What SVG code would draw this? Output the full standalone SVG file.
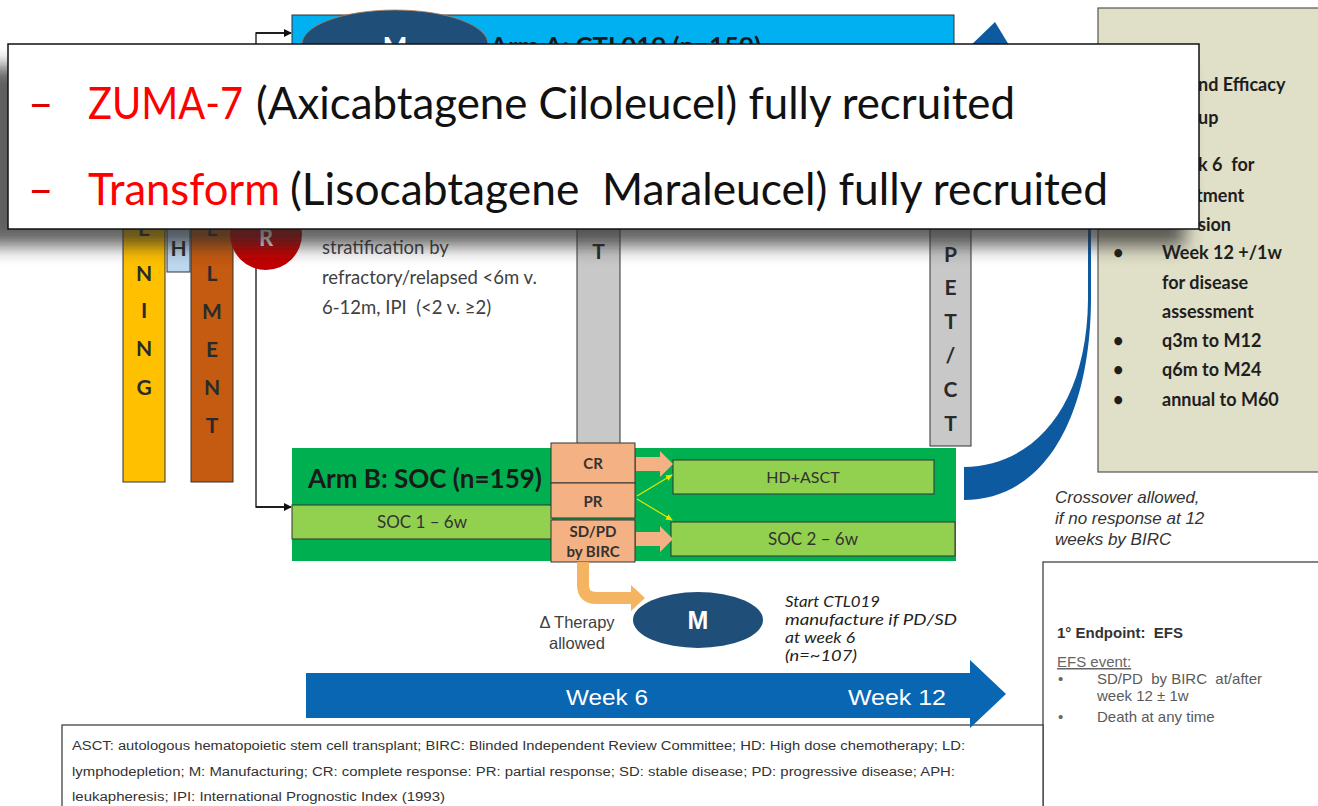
<svg xmlns="http://www.w3.org/2000/svg" width="1318" height="806" viewBox="0 0 1318 806">
<defs>
<style>
.cal{font-family:Lato,"Open Sans","Liberation Sans",sans-serif}
.ari{font-family:"Liberation Sans",Arial,sans-serif}
.b{font-weight:bold}
.col{font-family:Lato,"Liberation Sans",sans-serif;font-weight:bold;font-size:21px;fill:#2a2a2a;text-anchor:middle}
.orng{fill:#f4b183;stroke:#333;stroke-width:1}
.lt{fill:#92d050;stroke:#333;stroke-width:1}
.beige{font-family:Lato,"Liberation Sans",sans-serif;font-weight:bold;font-size:18px;fill:#1e1e1e}
</style>
<marker id="ah" markerWidth="8" markerHeight="8" refX="7" refY="4" orient="auto" markerUnits="userSpaceOnUse">
<path d="M0,0 L8,4 L0,8 Z" fill="#111"/>
</marker>
<marker id="ay" markerWidth="7" markerHeight="6" refX="6" refY="3" orient="auto" markerUnits="userSpaceOnUse">
<path d="M0,0 L7,3 L0,6 Z" fill="#e6e600"/>
</marker>
<filter id="sh" x="-10%" y="-30%" width="120%" height="160%">
<feGaussianBlur stdDeviation="9"/>
</filter>
</defs>
<rect x="0" y="0" width="1318" height="806" fill="#fff"/>

<g id="followup-box">
<rect x="1098" y="8" width="240" height="464" fill="#e0dfc8" stroke="#555" stroke-width="1.2"/>
<text class="beige" x="1198" y="91" font-size="20">nd Efficacy</text>
<text class="beige" x="1198" y="124" font-size="20">up</text>
<text class="beige" x="1198" y="171" xml:space="preserve">k 6  for</text>
<text class="beige" x="1196" y="202">tment</text>
<text class="beige" x="1198" y="231">sion</text>
<g class="beige">
<text x="1113" y="259">•</text><text x="1162" y="259">Week 12 +/1w</text>
<text x="1162" y="289">for disease</text>
<text x="1162" y="318">assessment</text>
<text x="1113" y="347">•</text><text x="1162" y="347">q3m to M12</text>
<text x="1113" y="376">•</text><text x="1162" y="376">q6m to M24</text>
<text x="1113" y="406">•</text><text x="1162" y="406">annual to M60</text>
</g>
</g>

<g id="endpoint-box">
<rect x="1043" y="562" width="300" height="260" fill="#fff" stroke="#333" stroke-width="1.2"/>
<text class="ari b" x="1057" y="638" font-size="15" fill="#333" xml:space="preserve">1° Endpoint:  EFS</text>
<text class="ari" x="1057" y="667" font-size="15" fill="#666" text-decoration="underline">EFS event:</text>
<text class="ari" x="1058" y="684" font-size="15" fill="#666">•</text>
<text class="ari" x="1097" y="684" font-size="15" fill="#5a5a5a" xml:space="preserve">SD/PD  by BIRC  at/after</text>
<text class="ari" x="1097" y="701" font-size="15" fill="#5a5a5a">week 12 ± 1w</text>
<text class="ari" x="1058" y="722" font-size="15" fill="#666">•</text>
<text class="ari" x="1097" y="722" font-size="15" fill="#5a5a5a">Death at any time</text>
</g>

<g id="crossover-note" class="ari" font-style="italic" font-size="17" fill="#333">
<text x="1055" y="503">Crossover allowed,</text>
<text x="1055" y="524">if no response at 12</text>
<text x="1055" y="545">weeks by BIRC</text>
</g>

<g id="footnote">
<rect x="62" y="725" width="981" height="100" fill="#fff" stroke="#333" stroke-width="1.2"/>
<g font-family="'Liberation Sans Narrow','Liberation Sans',sans-serif" font-size="12.5" fill="#333">
<text x="72" y="750" textLength="893" lengthAdjust="spacingAndGlyphs">ASCT: autologous hematopoietic stem cell transplant; BIRC: Blinded Independent Review Committee; HD: High dose chemotherapy; LD:</text>
<text x="72" y="776" textLength="883" lengthAdjust="spacingAndGlyphs">lymphodepletion; M: Manufacturing; CR: complete response: PR: partial response; SD: stable disease; PD: progressive disease; APH:</text>
<text x="72" y="801" textLength="373" lengthAdjust="spacingAndGlyphs">leukapheresis; IPI: International Prognostic Index (1993)</text>
</g>
</g>

<g id="arm-a">
<rect x="292" y="15" width="662" height="190" fill="#00b0f0" stroke="#333" stroke-width="1"/>
<ellipse cx="395" cy="44" rx="93" ry="34" fill="#1f4e79" stroke="#b07a50" stroke-width="0.8"/>
<text class="cal b" x="395" y="56" font-size="26" fill="#fff" text-anchor="middle">M</text>
<text class="cal b" x="490" y="55" font-size="24" fill="#1a1a1a" textLength="271" lengthAdjust="spacingAndGlyphs">Arm A: CTL019 (n=159)</text>
</g>

<g id="connectors">
<path d="M290,33 H256 V507 H290" fill="none" stroke="#111" stroke-width="1.3"/>
<line x1="256" y1="33" x2="291" y2="33" stroke="#111" stroke-width="1.3" marker-end="url(#ah)"/>
<line x1="256" y1="507" x2="291" y2="507" stroke="#111" stroke-width="1.3" marker-end="url(#ah)"/>
</g>

<g id="screening">
<rect x="123" y="150" width="42" height="332" fill="#ffc000" stroke="#333" stroke-width="1"/>
<text class="col" x="144" y="236">E</text>
<text class="col" x="144" y="281">N</text>
<text class="col" x="144" y="318">I</text>
<text class="col" x="144" y="356">N</text>
<text class="col" x="144" y="395">G</text>
</g>
<g id="apheresis">
<rect x="167" y="150" width="23" height="122" fill="#bdd7ee" stroke="#333" stroke-width="1"/>
<text class="col" x="178.5" y="256" font-size="12">H</text>
</g>
<g id="enrollment">
<rect x="191" y="150" width="42" height="332" fill="#c55a11" stroke="#333" stroke-width="1"/>
<text class="col" x="212" y="236">L</text>
<text class="col" x="212" y="281">L</text>
<text class="col" x="212" y="319">M</text>
<text class="col" x="212" y="357">E</text>
<text class="col" x="212" y="395">N</text>
<text class="col" x="212" y="433">T</text>
</g>
<g id="randomisation">
<circle cx="266" cy="234" r="36" fill="#c00000"/>
<text class="cal b" x="266" y="246" font-size="22" fill="#fff" text-anchor="middle">R</text>
</g>
<g id="stratification" class="cal" font-size="18.5" fill="#404040">
<text x="322" y="254">stratification by</text>
<text x="322" y="284">refractory/relapsed &lt;6m v.</text>
<text x="322" y="314" xml:space="preserve">6-12m, IPI  (&lt;2 v. ≥2)</text>
</g>

<g id="t-column">
<rect x="577" y="150" width="43" height="294" fill="#c8c8c8" stroke="#333" stroke-width="1"/>
<text class="col" x="598.5" y="259" font-size="19">T</text>
</g>
<g id="petct">
<rect x="930" y="150" width="41" height="296" fill="#c8c8c8" stroke="#333" stroke-width="1"/>
<g class="col" font-size="19">
<text x="950.5" y="262">P</text>
<text x="950.5" y="295">E</text>
<text x="950.5" y="329">T</text>
<text x="950.5" y="363">/</text>
<text x="950.5" y="397">C</text>
<text x="950.5" y="431">T</text>
</g>
</g>

<g id="arm-b">
<rect x="292" y="448" width="664" height="113" fill="#00b050"/>
<text class="cal b" x="308" y="488" font-size="26" fill="#1a1a1a" textLength="234" lengthAdjust="spacingAndGlyphs">Arm B: SOC (n=159)</text>
</g>
<g id="soc1">
<rect class="lt" x="292" y="505" width="261" height="34"/>
<text class="cal" x="422" y="528" font-size="17" fill="#333" text-anchor="middle">SOC 1 – 6w</text>
</g>
<g id="cr">
<rect class="orng" x="551" y="443" width="84" height="40"/>
<text class="cal b" x="593" y="469" font-size="15" fill="#333" text-anchor="middle">CR</text>
</g>
<g id="pr">
<rect class="orng" x="551" y="483" width="84" height="35"/>
<text class="cal b" x="593" y="507" font-size="15" fill="#333" text-anchor="middle">PR</text>
</g>
<g id="sdpd">
<rect class="orng" x="551" y="520" width="84" height="42"/>
<text class="cal b" x="593" y="537" font-size="15" fill="#333" text-anchor="middle">SD/PD</text>
<text class="cal b" x="593" y="557" font-size="15" fill="#333" text-anchor="middle">by BIRC</text>
</g>
<g id="hdasct">
<rect class="lt" x="673" y="460" width="261" height="34"/>
<text class="cal" x="803" y="483" font-size="16" fill="#333" text-anchor="middle">HD+ASCT</text>
</g>
<g id="soc2">
<rect class="lt" x="671" y="522" width="284" height="34"/>
<text class="cal" x="813" y="545" font-size="17" fill="#333" text-anchor="middle">SOC 2 – 6w</text>
</g>

<g id="response-arrows">
<path d="M636,457 H660 V451 L673,464 L660,477 V471 H636 Z" fill="#f4b183"/>
<path d="M636,532 H660 V526 L673,539 L660,552 V546 H636 Z" fill="#f4b183"/>
<line x1="637" y1="496" x2="672" y2="475" stroke="#e6e600" stroke-width="1.2" marker-end="url(#ay)"/>
<line x1="637" y1="499" x2="672" y2="520" stroke="#e6e600" stroke-width="1.2" marker-end="url(#ay)"/>
<path d="M583,562 V585 Q583,598 596,598 H632" fill="none" stroke="#f5b461" stroke-width="12"/>
<path d="M631,585 L645,598 L631,611 Z" fill="#f5b461"/>
</g>

<g id="crossover-arrow">
<path d="M964,500 C1040,500 1090,425 1091,300 L1091,229 C1091,150 1060,80 1000,50 L995,60 C1050,82 1087,150 1088,229 L1088,300 C1087,405 1035,466 964,467 Z" fill="#0d5aa0"/>
<path d="M966,50 L995,22 L1012,50 Z" fill="#0d5aa0"/>
</g>

<g id="manufacture-m">
<ellipse cx="698" cy="620" rx="65" ry="28" fill="#1f4e79"/>
<text class="ari b" x="698" y="629" font-size="25" fill="#fff" text-anchor="middle">M</text>
</g>
<g id="therapy-note" class="ari" font-size="16.5" fill="#404040" text-anchor="middle">
<text x="577" y="628">Δ Therapy</text>
<text x="577" y="649">allowed</text>
</g>
<g id="start-note" class="cal" font-style="italic" font-size="15" fill="#222">
<text x="785" y="607" textLength="95" lengthAdjust="spacingAndGlyphs">Start CTL019</text>
<text x="785" y="625" textLength="172" lengthAdjust="spacingAndGlyphs">manufacture if PD/SD</text>
<text x="785" y="643" textLength="70" lengthAdjust="spacingAndGlyphs">at week 6</text>
<text x="785" y="661" textLength="72" lengthAdjust="spacingAndGlyphs">(n=~107)</text>
</g>

<g id="timeline">
<path d="M306,673 H970 V660 L1006,694 L970,728 V718 H306 Z" fill="#0866b3"/>
<text class="ari" x="566" y="705" font-size="22" fill="#fff" textLength="82" lengthAdjust="spacingAndGlyphs">Week 6</text>
<text class="ari" x="848" y="705" font-size="22" fill="#fff" textLength="98" lengthAdjust="spacingAndGlyphs">Week 12</text>
</g>

<g id="overlay">
<rect x="-20" y="66" width="1205" height="180" fill="#2a2a2a" opacity="0.75" filter="url(#sh)"/>
<rect x="8" y="44" width="1191" height="185" fill="#fff" stroke="#111" stroke-width="1.5"/>
<g class="cal" font-size="44">
<text x="28" y="119" fill="#e00000">–</text>
<text x="88" y="119" fill="#ff0000" textLength="155" lengthAdjust="spacingAndGlyphs">ZUMA-7</text>
<text x="256" y="119" fill="#111" textLength="759" lengthAdjust="spacingAndGlyphs">(Axicabtagene Ciloleucel) fully recruited</text>
<text x="28" y="205" fill="#e00000">–</text>
<text x="88" y="205" fill="#ff0000" textLength="192" lengthAdjust="spacingAndGlyphs">Transform</text>
<text x="290" y="205" fill="#111" textLength="818" lengthAdjust="spacingAndGlyphs" xml:space="preserve">(Lisocabtagene  Maraleucel) fully recruited</text>
</g>
</g>
</svg>
